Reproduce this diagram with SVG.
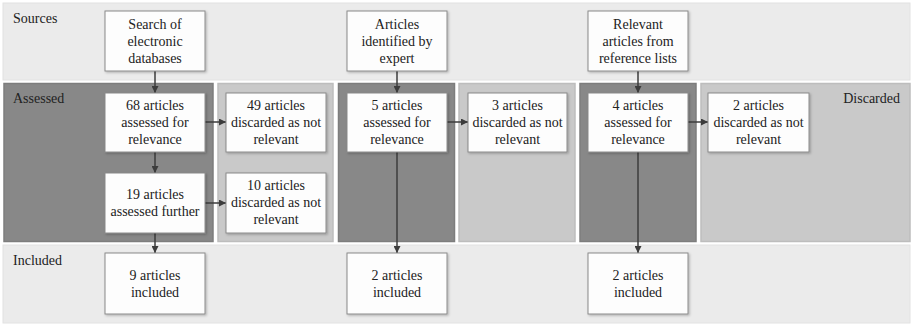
<svg xmlns="http://www.w3.org/2000/svg" width="911" height="324" viewBox="0 0 911 324">
  <style>
    .band { fill: #ebebeb; stroke: #e2e2e2; stroke-width: 1; }
    .dark { fill: #888888; stroke: #7d7d7d; stroke-width: 1.5; }
    .light { fill: #c9c9c9; stroke: #bdbdbd; stroke-width: 1.5; }
    .box { fill: #fdfdfd; stroke: #8a8a8a; stroke-width: 1; filter: url(#shadow); }
    .t { font-size: 14px; fill: #222; text-anchor: middle; }
    .lbl { font-size: 14px; fill: #222; }
    .edge { stroke: #3c3c3c; stroke-width: 1.5; fill: none; marker-end: url(#arrow); }
  </style>
  <defs>
    <marker id="arrow" viewBox="0 0 10 10" refX="10" refY="5" markerWidth="7" markerHeight="7" markerUnits="userSpaceOnUse" orient="auto">
      <path d="M0,0 L10,5 L0,10 Z" fill="#3c3c3c"/>
    </marker>
    <filter id="shadow" x="-10%" y="-10%" width="125%" height="125%">
      <feDropShadow dx="1.2" dy="1.2" stdDeviation="0.8" flood-color="#000" flood-opacity="0.25"/>
    </filter>
  </defs>

  <rect width="911" height="324" fill="#ffffff"/>

  <!-- Row bands -->
  <g id="bands">
    <rect class="band" x="3" y="3" width="907" height="77"/>
    <rect class="dark" x="4" y="83.5" width="209" height="158"/>
    <rect class="light" x="218" y="83.5" width="115" height="158"/>
    <rect class="dark" x="338.5" y="83.5" width="116" height="158"/>
    <rect class="light" x="459" y="83.5" width="116" height="158"/>
    <rect class="dark" x="580" y="83.5" width="116" height="158"/>
    <rect class="light" x="701" y="83.5" width="209" height="158"/>
    <rect class="band" x="3" y="245" width="907" height="78"/>
  </g>

  <g font-family="Liberation Serif, Times New Roman, serif">
  <g id="row-labels">
    <text class="lbl" x="13" y="23">Sources</text>
    <text class="lbl" x="13" y="103">Assessed</text>
    <text class="lbl" x="13" y="265">Included</text>
    <text class="lbl" x="900" y="103" text-anchor="end">Discarded</text>
  </g>

  <!-- Connectors -->
  <g id="connectors">
    <line class="edge" x1="155" y1="71" x2="155" y2="93"/>
    <line class="edge" x1="205" y1="122" x2="226" y2="122"/>
    <line class="edge" x1="155" y1="152" x2="155" y2="173"/>
    <line class="edge" x1="205" y1="203" x2="226" y2="203"/>
    <line class="edge" x1="155" y1="233" x2="155" y2="253"/>
    <line class="edge" x1="397" y1="71" x2="397" y2="93"/>
    <line class="edge" x1="447" y1="122" x2="468" y2="122"/>
    <line class="edge" x1="397" y1="152" x2="397" y2="253"/>
    <line class="edge" x1="638" y1="71" x2="638" y2="93"/>
    <line class="edge" x1="688" y1="122" x2="708" y2="122"/>
    <line class="edge" x1="638" y1="152" x2="638" y2="253"/>
  </g>

  <!-- Sources -->
  <g id="src-databases">
    <rect class="box" x="105" y="11" width="100" height="60"/>
    <text class="t" x="155" y="29">Search of</text>
    <text class="t" x="155" y="46">electronic</text>
    <text class="t" x="155" y="63">databases</text>
  </g>
  <g id="src-expert">
    <rect class="box" x="347" y="11" width="100" height="60"/>
    <text class="t" x="397" y="29">Articles</text>
    <text class="t" x="397" y="46">identified by</text>
    <text class="t" x="397" y="63">expert</text>
  </g>
  <g id="src-references">
    <rect class="box" x="588" y="11" width="100" height="60"/>
    <text class="t" x="638" y="29">Relevant</text>
    <text class="t" x="638" y="46">articles from</text>
    <text class="t" x="638" y="63">reference lists</text>
  </g>

  <!-- Assessed / discarded -->
  <g id="assessed-68">
    <rect class="box" x="105" y="93" width="100" height="59"/>
    <text class="t" x="155" y="110">68 articles</text>
    <text class="t" x="155" y="127">assessed for</text>
    <text class="t" x="155" y="144">relevance</text>
  </g>
  <g id="discarded-49">
    <rect class="box" x="226" y="93" width="100" height="59"/>
    <text class="t" x="276" y="110">49 articles</text>
    <text class="t" x="276" y="127">discarded as not</text>
    <text class="t" x="276" y="144">relevant</text>
  </g>
  <g id="assessed-19">
    <rect class="box" x="105" y="173" width="100" height="60"/>
    <text class="t" x="155" y="199">19 articles</text>
    <text class="t" x="155" y="216">assessed further</text>
  </g>
  <g id="discarded-10">
    <rect class="box" x="226" y="173" width="100" height="60"/>
    <text class="t" x="276" y="190">10 articles</text>
    <text class="t" x="276" y="207">discarded as not</text>
    <text class="t" x="276" y="224">relevant</text>
  </g>
  <g id="assessed-5">
    <rect class="box" x="347" y="93" width="100" height="59"/>
    <text class="t" x="397" y="110">5 articles</text>
    <text class="t" x="397" y="127">assessed for</text>
    <text class="t" x="397" y="144">relevance</text>
  </g>
  <g id="discarded-3">
    <rect class="box" x="468" y="93" width="99" height="59"/>
    <text class="t" x="517.5" y="110">3 articles</text>
    <text class="t" x="517.5" y="127">discarded as not</text>
    <text class="t" x="517.5" y="144">relevant</text>
  </g>
  <g id="assessed-4">
    <rect class="box" x="588" y="93" width="100" height="59"/>
    <text class="t" x="638" y="110">4 articles</text>
    <text class="t" x="638" y="127">assessed for</text>
    <text class="t" x="638" y="144">relevance</text>
  </g>
  <g id="discarded-2">
    <rect class="box" x="708" y="93" width="101" height="59"/>
    <text class="t" x="758.5" y="110">2 articles</text>
    <text class="t" x="758.5" y="127">discarded as not</text>
    <text class="t" x="758.5" y="144">relevant</text>
  </g>

  <!-- Included -->
  <g id="included-9">
    <rect class="box" x="105" y="253" width="100" height="61"/>
    <text class="t" x="155" y="280">9 articles</text>
    <text class="t" x="155" y="297">included</text>
  </g>
  <g id="included-2a">
    <rect class="box" x="347" y="253" width="100" height="61"/>
    <text class="t" x="397" y="280">2 articles</text>
    <text class="t" x="397" y="297">included</text>
  </g>
  <g id="included-2b">
    <rect class="box" x="588" y="253" width="100" height="61"/>
    <text class="t" x="638" y="280">2 articles</text>
    <text class="t" x="638" y="297">included</text>
  </g>
  </g>
</svg>
